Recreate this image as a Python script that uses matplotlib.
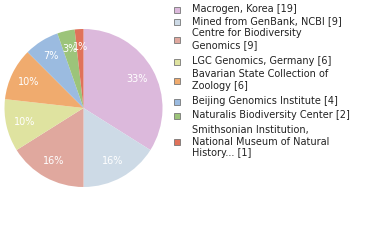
import matplotlib
matplotlib.use("Agg")
import matplotlib.pyplot as plt
import matplotlib.patches as patches

# institutions and record counts
labels = ["Macrogen, Korea [19]",
          "Mined from GenBank, NCBI [9]",
          "Centre for Biodiversity\nGenomics [9]",
          "LGC Genomics, Germany [6]",
          "Bavarian State Collection of\nZoology [6]",
          "Beijing Genomics Institute [4]",
          "Naturalis Biodiversity Center [2]",
          "Smithsonian Institution,\nNational Museum of Natural\nHistory... [1]"]
counts = [19, 9, 9, 6, 6, 4, 2, 1]
colors = ["#dcb9dc", "#cddae6", "#e0a89e", "#dfe3a0",
          "#f0ab6e", "#9bbbe0", "#9cc47a", "#e0725a"]

fig = plt.figure(figsize=(3.8, 2.4), dpi=100)
ax = fig.add_axes([4.5 / 380, 53 / 240, 158 / 380, 158 / 240])

ax.pie(counts, colors=colors, startangle=90, counterclock=False,
       autopct=lambda p: '%d%%' % int(p), pctdistance=0.77,
       textprops=dict(color='white', fontsize=7))
ax.set_aspect('equal')
ax.set_xlim(-1, 1)
ax.set_ylim(-1, 1)

# legend drawn by hand: square center y and text top y, in pixels from top
sq_y = [10, 22, 40, 62, 81, 102, 116, 142]
txt_y = [4, 16, 28, 56, 69, 96, 110, 125]
for lab, col, sy, ty in zip(labels, colors, sq_y, txt_y):
    fig.patches.append(patches.Rectangle(
        (174 / 380, 1 - (sy + 3) / 240), 6 / 380, 6 / 240,
        transform=fig.transFigure, facecolor=col, edgecolor='#777777',
        linewidth=0.6))
    fig.text(192 / 380, 1 - ty / 240, lab, fontsize=7, color='#222222',
             va='top', ha='left', linespacing=1.2)

fig.savefig("out.png", dpi=100)
